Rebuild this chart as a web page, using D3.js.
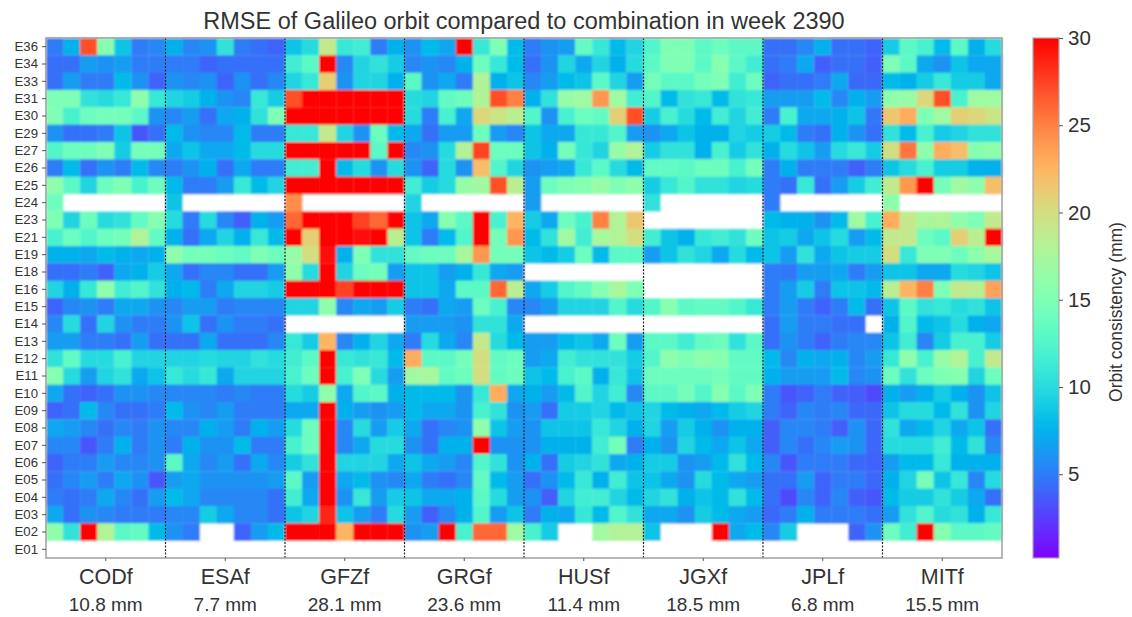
<!DOCTYPE html>
<html><head><meta charset="utf-8">
<script src="https://cdn.jsdelivr.net/npm/d3@7"></script>
<style>
html,body{margin:0;padding:0;background:#fff;overflow:hidden}
text{font-family:"Liberation Sans",Arial,sans-serif;fill:#333}
</style></head><body>
<svg id="c" width="1132" height="617"></svg>
<script>
const satellites=["E36","E34","E33","E31","E30","E29","E27","E26","E25","E24","E23","E21","E19","E18","E16","E15","E14","E13","E12","E11","E10","E09","E08","E07","E06","E05","E04","E03","E02","E01"];
const centres=["CODf","ESAf","GFZf","GRGf","HUSf","JGXf","JPLf","MITf"];
const rmsLabels=["10.8 mm","7.7 mm","28.1 mm","23.6 mm","11.4 mm","18.5 mm","6.8 mm","15.5 mm"];
const colourTicks=[5,10,15,20,25,30];
const _=null;
const COD=[
[5,7.5,27,15.5,8.5,5,5.5],[4.5,4.5,6.5,6,6.5,5,5],[4.5,6.5,5,5,8,6,4],[15,15,10.5,10,11,16,11],[15,12,14,14.5,14.5,13,6],[6,4.5,4.5,5,8.5,3.5,4.5],[12.5,14,14,15,9,14.5,14.5],[5,8,4.5,6,5,8,5.5],[16,13,9.5,14,15,12,14],[14,_,_,_,_,_,_],[15,9.5,14,10,10.5,13.5,15.5],[12,14,12.5,14,14.5,18,13.5],[7.5,7.5,7,8,7.5,7,7.5],[4.5,4.5,5,4,7,7.5,9],[9.5,7.5,11,16,11.5,12.5,10.5],
[4,5.5,6,5,7,7,6],[5.5,10,4.5,9.5,6,5,5],[6.5,6.5,5,5,4.5,6.5,4.5],[10.5,13.5,10,10,12,9.5,9.5],[15.5,10,6.5,9.5,10.5,7,8.5],[7,4.5,4,4.5,6,6,5.5],[4,4.5,8,5.5,4.5,4.5,5],[7,6.5,5.5,4.5,5.5,5,6],[5.5,5.5,3.5,5,7.5,5,6],[4,5,5,6.5,5.5,5.5,6],[4.5,5.5,6.5,5,7,6,3.5],[5,4.5,5,7,5.5,4.5,6.5],[7,4.5,6,5.5,5,5,5],[16,10.5,30,18,13,13.5,8],[_,_,_,_,_,_,_]];
const ESA=[
[7.5,5.5,6,10.5,5,4.5,4],[5,5,4,4.5,4.5,4.5,4.5],[6,5.5,6,4,6,4.5,5.5],[9.5,9,7.5,6,5.5,11,9],[5.5,6.5,4.5,7,7.5,10.5,15],[8,6,5.5,5.5,8,5,5],[7,8.5,7,7,8,10,10],[5,6,7.5,4.5,7,5,5],[8,5,5,6.5,11,8,9.5],[8.5,_,_,_,_,_,_],[10,5,10,5.5,3.8,7.5,6.5],[7.5,4.5,7,9.5,7.5,11,8],[16,14.5,14.5,14,13.5,15,14],[7,4.5,5.5,5.5,4.5,4.5,6.5],[7.5,8,5,7,9.5,9.5,9],
[5.5,6.5,6.5,5,5.5,5.5,5.5],[6,8.5,4.5,6,5,5,4.5],[4.5,4.5,7,4.5,4.5,4.5,5.5],[9.5,9.5,10,9.5,9.5,10.5,10],[11,10,11,7,9.5,9.5,9.5],[5.5,5.5,5.5,5,5.5,5,5],[8,6,5.5,6.5,5,5,5],[5.5,5.5,7.5,6.5,5,7.5,6.5],[5,7.5,6,6,8,5,5],[13,7,5.5,6.5,4.5,7,5.5],[6.5,7,6,6,6,6,6.5],[8,7,5.5,5.5,5.5,5.5,4.5],[5.5,5.5,9,7,5.5,5.5,4.5],[6,5,_,_,4,6.5,8],[_,_,_,_,_,_,_]];
const GFZ=[
[8.5,10,19,11,11.5,5,7.5],[11.5,13,30,5.5,9.5,10.5,9],[9.5,11,21,6,9.5,9.5,7.5],[27,30,30,30,30,30,30],[30,30,30,30,30,30,30],[11,11,19,9.5,6,14,8],[30,30,30,30,30,13,30],[11.5,11.5,30,8,10,6,10],[30,30,30,30,30,30,30],[24.5,_,_,_,_,_,_],[26,30,30,30,27.5,26,30],[30,21,30,30,29.5,30,18.5],[16.5,20,29.5,7.5,15,10.5,10.5],[16,10,30,9.5,14,14.5,6.5],[30,30,30,27.5,30,30,30],
[9.5,9.5,16,5.5,7,6.5,9],[_,_,_,_,_,_,_],[11,9,22.5,5.5,7.5,9.5,7],[11.5,13,30,11,10.5,11,8],[12,14,30,12,15,10,6.5],[10,9,16,7,12.5,13,7.5],[7,7,30,7.5,6.5,6,6.5],[10,14,30,5.5,10,6.5,9],[12,14,30,5.5,7,10,10],[9,10.5,30,9.5,9.5,9.5,7],[13,6.5,30,7,8,6,5.5],[11.5,7,30,6,11,6.5,9],[8.5,9.5,28.5,8.5,6.5,5,10],[30,30,30,22.5,30,30,30],[_,_,_,_,_,_,_]];
const GRG=[
[6,8,7,30,11,15,8],[5.5,6,5.5,7.5,14,11,8],[13,6,7,5,18,7.5,8.5],[10,9.5,13.5,14,18,27,25],[10,5,12,7,20.5,19.5,18.5],[7,4.5,6.5,6.5,14,6.5,5.5],[5.5,6,10,18,27.5,14,14],[6,4,10,6,22,12.5,9.5],[11.5,9,10,16.5,17,27,18.5],[9.5,_,_,_,_,_,_],[8.5,7,15.5,13,30,12,22.5],[8.5,5,8,12.5,30,14.5,24],[13.5,14,14,17.5,24,14.5,14.5],[8.5,8.5,6.5,7.5,11,7,6.5],[8.5,8.5,7,13,13,26,18.5],
[5,4.5,7,6.5,14,12,5.5],[6.5,6.5,6.5,6,10.5,10.5,7],[5,10,7,5.5,19,10,8],[23,13,13,14.5,20,13.5,14],[17,17.5,13.5,14,20,13.5,14],[8,8,8,6,11,23,7],[8,7,7,6,12,10.5,6],[7,4.5,5.5,6,16,8.5,6.5],[6,4.5,7.5,7.5,30,6,6],[8.5,7,6.5,5.5,12.5,10.5,6],[7,5,4.5,5.5,13.5,8,6.5],[8.5,7,7,7.5,13,10,6.5],[6.5,3.8,5.5,7.5,12.5,6.5,8.5],[6,6.5,30,12,26,26,17],[_,_,_,_,_,_,_]];
const HUS=[
[5,6,6.5,13.5,11,8,9.5],[4.5,6,9.5,7,9.5,7.5,10],[5.5,6.5,8,8.5,13,9.5,6.5],[7.5,10.5,16.5,17,24,17,11.5],[12.5,6,12,14,13.5,21,27],[8.5,7,7,11,11,12.5,6.5],[8.5,7.5,14.5,11,9.5,16.5,18],[6,6.5,7,11,13,10,8],[6.5,14,15,15.5,16.5,15,16],[6.5,_,_,_,_,_,_],[9,7,14,12,25,18,21.5],[8,10.5,17,11.5,17.5,18,20],[8.5,8,9,14,8,13,13],[_,_,_,_,_,_,_],[7,9,12.5,13.5,15.5,17.5,15],
[5.5,6.5,9.5,9.5,9.5,12.5,10],[_,_,_,_,_,_,_],[6.5,6.5,8,8.5,7,14,6.5],[6.5,7,11.5,10.5,10.5,10.5,9],[8.5,8,12,13,7.5,11,8.5],[7.5,6.5,8,12.5,9.5,11.5,5.5],[6.5,4.5,9,9,9.5,8,8.5],[6,8.5,8.5,8.5,11,9.5,7.5],[6,7.5,7.5,7.5,11.5,14.5,5],[7.5,4.5,9,9.5,10.5,7,7.5],[4.5,6,8,11,7.5,11.5,8.5],[6,3.8,9.5,11.5,11.5,9.5,8],[5,7.5,7,11,8,12.5,10.5],[12,9,_,_,17,18,18],[_,_,_,_,_,_,_]];
const JGX=[
[12.5,15,15,13,14,13,13],[13,15,15,13,15.5,13,11.5],[14.5,13,13,14.5,15,11.5,14],[12.5,8,10.5,11,8,10.5,11],[9,12,10,8,11.5,9.5,11.5],[6,7,8.5,7.5,7.5,9.5,9],[9,10.5,10.5,7.5,12,9,10.5],[13.5,13.5,13,14,14,12,14.5],[9,11,12.5,10.5,10.5,9.5,10],[10.5,_,_,_,_,_,_],[_,_,_,_,_,_,_],[11.5,8.5,7.5,11,11.5,10.5,14],[6.5,8.5,10.5,9.5,7,10,8],[_,_,_,_,_,_,_],[_,_,_,_,_,_,_],
[12.5,15.5,13,13.5,13.5,12.5,11],[_,_,_,_,_,_,_],[13,13,11.5,13.5,14,10.5,13],[12.5,16,15,16,15.5,13.5,13.5],[14,14,14,14,14.5,13.5,13.5],[13,13,14.5,12.5,15.5,13,15],[9.5,8,7.5,7,8,9,9.5],[9.5,6.5,9,7.5,6,7.5,7.5],[7.5,6,9.5,8,7,8.5,7],[9,9,6,6.5,8,10.5,8],[8.5,7,6,10,8,7,6.5],[9.5,10.5,7.5,8.5,8,10.5,8],[7,7,6,9,8,7,6.5],[8.5,_,_,_,30,7,8],[_,_,_,_,_,_,_]];
const JPL=[
[4.5,4.5,5.5,7.5,4.5,4.5,4],[4.5,5,7,3.8,4.5,4.5,3.8],[4,4.5,4.5,5,7,4.2,4.2],[6.5,6.5,6.5,8,5.5,7.5,6.5],[5,12,7,7,7.5,8.5,4.8],[9,8,5,4.5,7.5,6,4.5],[7.5,10,8.5,6.5,10,11,9],[5,7.5,5,5,5,3.8,5],[5,4.5,11,4.5,6.5,9,11.5],[5,_,_,_,_,_,_],[8,7.5,7.5,6,8,17,12],[8.5,9,7,8.5,10,6.5,8],[8.5,6.5,10.5,7,8.5,9,9],[5,4.8,6.5,6.5,7,5,6.5],[5,6.5,9,5,8.5,8.5,8],
[5,6.5,5,4,5,8,4.5],[4.5,6.5,5,5,4.5,4.5,_],[4.5,6,5,4,5,5.5,5.5],[8,5.5,7.5,7,7.5,5.5,6.5],[7.5,6.5,6.5,6.5,8,5.5,6],[5,3.5,4,5,4,3.8,3],[5,4,5.5,5,5.5,4.2,4.2],[3.8,5.5,5.5,5,3.8,6,4.2],[3.8,5.5,4.5,5.5,6.5,6,4.2],[5.5,3.5,5,5,5,4.2,4],[4.5,4.5,6.5,4,5,5,4.2],[4.5,3,5.5,4,5.5,3.8,3.5],[4.2,5,7.5,5,5,5,4.5],[5.5,9,_,_,_,4,6],[_,_,_,_,_,_,_]];
const MIT=[
[9,13,12,8,13,7.5,10],[15,13,7,6,8.5,7,7],[8,7.5,9,11,9,9,7],[16,16.5,20.5,27,12,17,17],[21.5,23,15,17,21,20.5,19.5],[10.5,8,12,9,9.5,10.5,10.5],[20,25.5,16,23,22,15.5,16],[8.5,10,12,9,9,7.5,7.5],[19,24,30,14.5,17,16,22],[16,_,_,_,_,_,_],[23,19,17.5,18,16,15,19],[19,19,14,13,21,18.5,30],[20,11,15,15,14,16,17.5],[8.5,8.5,7,7,10,9.5,8.5],[18.5,22.5,25,15,19,18.5,23.5],
[8.5,13,10.5,11,10,10.5,8.5],[7.5,12.5,8,8.5,10,7.5,7],[8.5,11.5,5.5,9,12,12,9],[11,16,12,16.5,18,12,19],[14,10.5,14,15,15.5,9.5,14],[7.5,6.5,7.5,9,7.5,6,8.5],[8.5,10,10,8,10.5,6,9.5],[10.5,7,8,9.5,7,8.5,4.5],[10,10,10,11.5,8,10.5,5.5],[6.5,8,8,11,7.5,7.5,7.5],[7.5,9.5,14.5,8.5,11,5.5,10],[8,9,9,10.5,9,7,4.5],[6.5,10.5,12.5,10,10.5,7.5,11],[14,11.5,30,15.5,13,13,13.5],[_,_,_,_,_,_,_]];
const centreValues=[COD,ESA,GFZ,GRG,HUS,JGX,JPL,MIT];

const vMin=0.2,vMax=30;
const L=46,R=1002,T=38,B=558;
const CL=1033,CR=1059;
function rainbow(x){
  const c=v=>Math.round(255*Math.max(0,Math.min(1,v)));
  return `rgb(${c(Math.abs(2*x-0.5))},${c(Math.sin(Math.PI*x))},${c(Math.cos(Math.PI*x/2))})`;
}
const norm=d3.scaleLinear().domain([vMin,vMax]).range([0,1]).clamp(true);
const colour=v=>rainbow(norm(v));
const svg=d3.select("#c");
const defs=svg.append("defs");
defs.append("filter").attr("id","soft").attr("filterUnits","userSpaceOnUse")
  .attr("x",0).attr("y",0).attr("width",1132).attr("height",617)
  .append("feGaussianBlur").attr("stdDeviation",0.85);
const root=svg.append("g");
const cellsLayer=root.append("g").attr("filter","url(#soft)");
cellsLayer.append("rect").attr("width",1132).attr("height",617).attr("fill","#fff");

const yBand=d3.scaleBand().domain(satellites).range([T,B]);
const xGroup=d3.scaleBand().domain(centres).range([L,R]);
const xDay=d3.scaleBand().domain(d3.range(7)).range([0,xGroup.bandwidth()]);

const groups=cellsLayer.selectAll("g.centre").data(centres).join("g").attr("class","centre")
  .attr("transform",d=>`translate(${xGroup(d)},0)`);
groups.each(function(name,ci){
  const cells=[];
  centreValues[ci].forEach((row,ri)=>row.forEach((v,di)=>{if(v!==null)cells.push({v,di,sat:satellites[ri]});}));
  d3.select(this).selectAll("rect").data(cells).join("rect")
    .attr("x",d=>xDay(d.di)).attr("y",d=>yBand(d.sat))
    .attr("width",xDay.bandwidth()+0.3).attr("height",yBand.bandwidth()+0.3)
    .attr("fill",d=>colour(d.v));
});
root.selectAll("line.sep").data(centres.slice(1)).join("line").attr("class","sep")
  .attr("x1",d=>xGroup(d)).attr("x2",d=>xGroup(d)).attr("y1",T).attr("y2",B)
  .attr("stroke","#222").attr("stroke-width",1.2).attr("stroke-dasharray","2 1.5");
root.append("rect").attr("x",L).attr("y",T).attr("width",R-L).attr("height",B-T)
  .attr("fill","none").attr("stroke","#999").attr("stroke-width",1.4);
const yG=root.append("g").attr("transform",`translate(${L},0)`)
  .call(d3.axisLeft(yBand).tickSize(4).tickPadding(4));
yG.select(".domain").remove();
yG.selectAll("line").attr("stroke","#555");
yG.selectAll("text").style("font-size","13.2px").style("font-family",'"Liberation Sans",Arial,sans-serif').attr("fill","#444");
const xG=root.append("g").attr("transform",`translate(0,${B})`)
  .call(d3.axisBottom(xGroup).tickSize(3).tickFormat(""));
xG.select(".domain").remove();
xG.selectAll("line").attr("stroke","#555");
root.selectAll("text.cn").data(centres).join("text").attr("class","cn")
  .attr("x",d=>xGroup(d)+xGroup.bandwidth()/2).attr("y",583.5)
  .attr("text-anchor","middle").style("font-size","21.5px").text(d=>d);
root.selectAll("text.rms").data(rmsLabels).join("text").attr("class","rms")
  .attr("x",(d,i)=>xGroup(centres[i])+xGroup.bandwidth()/2).attr("y",610.5)
  .attr("text-anchor","middle").style("font-size","19px").text(d=>d);
root.append("text").attr("x",524).attr("y",29).attr("text-anchor","middle")
  .style("font-size","23.5px").text("RMSE of Galileo orbit compared to combination in week 2390");
const yC=d3.scaleLinear().domain([vMin,vMax]).range([B,T]);
const grad=defs.append("linearGradient").attr("id","cb").attr("x1",0).attr("x2",0).attr("y1",1).attr("y2",0);
d3.range(0,1.0001,0.02).forEach(t=>grad.append("stop").attr("offset",t).attr("stop-color",rainbow(t)));
root.append("rect").attr("x",CL).attr("y",T).attr("width",CR-CL).attr("height",B-T)
  .attr("fill","url(#cb)").attr("stroke","#aaa").attr("stroke-width",1.2);
const cG=root.append("g").attr("transform",`translate(${CR},0)`)
  .call(d3.axisRight(yC).tickValues(colourTicks).tickSize(4).tickPadding(5));
cG.select(".domain").remove();
cG.selectAll("line").attr("stroke","#555");
cG.selectAll("text").style("font-size","20.5px").style("font-family",'"Liberation Sans",Arial,sans-serif').attr("fill","#333");
root.append("text").attr("transform","translate(1122,312) rotate(-90)").attr("text-anchor","middle")
  .style("font-size","17.5px").text("Orbit consistency (mm)");
</script>
</body></html>
